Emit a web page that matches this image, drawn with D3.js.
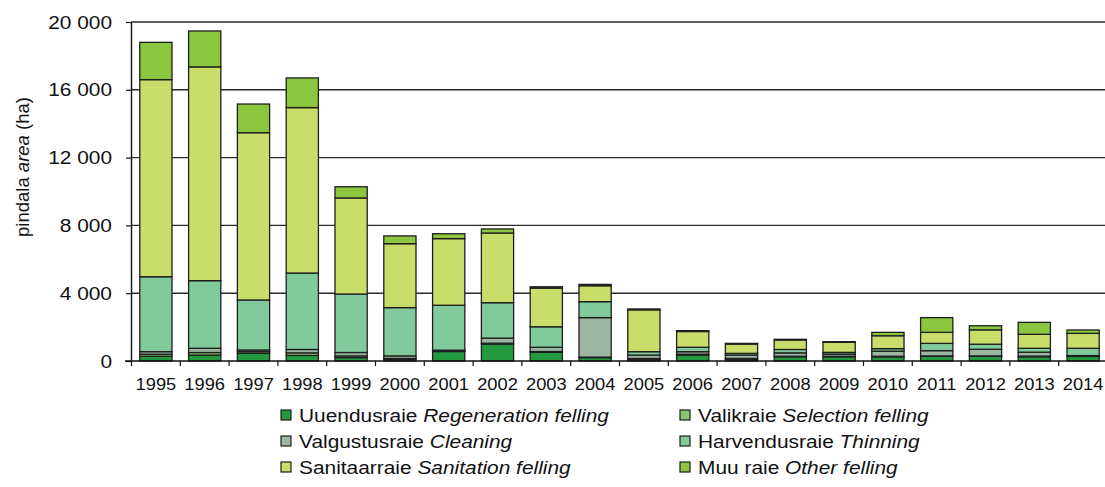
<!DOCTYPE html>
<html>
<head>
<meta charset="utf-8">
<script src="https://cdn.jsdelivr.net/npm/d3@7/dist/d3.min.js"></script>
<style>
  html, body { margin: 0; padding: 0; background: #fff; }
  svg { display: block; font-family: "Liberation Sans", Arial, sans-serif; }
</style>
</head>
<body>
<svg id="chart" width="1105" height="487"></svg>
<script>
// Felling area by felling type (ha), 1995–2014
const years = ["1995","1996","1997","1998","1999","2000","2001","2002","2003","2004",
               "2005","2006","2007","2008","2009","2010","2011","2012","2013","2014"];

const regeneration = [280, 350, 450, 330, 200, 100, 560, 1000, 510, 200, 100, 350, 100, 250, 250, 250, 280, 280, 250, 270];
const selection    = [120, 150, 100, 150, 100,  50,  30,   50,  50,  30,  50,  50,  50,  30,  30,  30,  20,  20,  40,  20];
const cleaning     = [150, 250, 100, 200, 200, 150,  50,  300, 250, 2330, 200, 150, 200, 200, 130, 300, 310, 390, 230,  30];
const thinning     = [4420, 3990, 2950, 4510, 3450, 2850, 2650, 2090, 1210, 940, 200, 260, 100, 200, 100, 150, 430, 300, 230, 430];
const sanitation   = [11630, 12610, 9870, 9760, 5670, 3770, 3930, 4110, 2280, 940, 2470, 930, 550, 560, 590, 760, 650, 850, 825, 880];
const other        = [2200, 2120, 1690, 1750, 660, 460, 290, 240, 80, 80, 50, 50, 40, 40, 40, 200, 870, 240, 705, 200];

const seriesKeys    = ["regeneration", "selection", "cleaning", "thinning", "sanitation", "other"];
const seriesLocal   = ["Uuendusraie", "Valikraie", "Valgustusraie", "Harvendusraie", "Sanitaarraie", "Muu raie"];
const seriesEnglish = ["Regeneration felling", "Selection felling", "Cleaning", "Thinning", "Sanitation felling", "Other felling"];
const seriesColors  = ["#239a3f", "#86c66b", "#9db7a3", "#80ca9c", "#c9dd6b", "#8cc63f"];

const yTicks = [0, 4000, 8000, 12000, 16000, 20000];

const table = years.map((y, i) => ({
  year: y,
  regeneration: regeneration[i],
  selection: selection[i],
  cleaning: cleaning[i],
  thinning: thinning[i],
  sanitation: sanitation[i],
  other: other[i]
}));

const FONT = 18.5;     // label font size
const STRETCH = 1.13;  // slightly widened lettering

const svg = d3.select("#chart");

const x = d3.scaleBand()
  .domain(years)
  .range([131.5, 1107.5])
  .paddingInner(0.34)
  .paddingOuter(0.17);

const y = d3.scaleLinear()
  .domain([0, 20000])
  .range([361, 22]);

const fmt = d3.formatLocale({ decimal: ",", thousands: "\u00a0", grouping: [3], currency: ["", ""] }).format(",d");

// places a widened text label at (px, py)
function label(parent, px, py, anchor, size) {
  return parent.append("text")
    .attr("transform", `translate(${px},${py}) scale(${STRETCH},1)`)
    .attr("text-anchor", anchor)
    .attr("font-size", size || FONT)
    .attr("fill", "#111");
}

// horizontal gridlines
svg.append("g")
  .selectAll("line")
  .data(yTicks.filter(d => d > 0))
  .join("line")
  .attr("x1", 131).attr("x2", 1105)
  .attr("y1", d => y(d)).attr("y2", d => y(d))
  .attr("stroke", "#2a2a2a")
  .attr("stroke-width", 1.4);

// stacked bars
const layers = d3.stack().keys(seriesKeys)(table);

svg.append("g")
  .selectAll("g")
  .data(layers)
  .join("g")
  .attr("fill", (d, i) => seriesColors[i])
  .selectAll("rect")
  .data(d => d)
  .join("rect")
  .attr("x", d => x(d.data.year))
  .attr("width", x.bandwidth())
  .attr("y", d => y(d[1]))
  .attr("height", d => y(d[0]) - y(d[1]))
  .attr("stroke", "#1e1e1e")
  .attr("stroke-width", 1.3);

// y axis
const yAxis = svg.append("g")
  .attr("transform", "translate(131,0)")
  .call(d3.axisLeft(y).tickValues(yTicks).tickFormat("").tickSize(5).tickSizeOuter(0));
yAxis.select(".domain").attr("stroke", "#111").attr("stroke-width", 1.4);
yAxis.selectAll(".tick line").attr("stroke", "#111").attr("stroke-width", 1.2);
yAxis.selectAll(".tick text").remove();

const yLabels = svg.append("g");
yTicks.forEach(v => {
  label(yLabels, 112, y(v) + 6.5, "end").text(fmt(v));
});

// x axis with ticks on band boundaries
const xAxisG = svg.append("g").attr("transform", "translate(0,361)");
xAxisG.append("line")
  .attr("x1", 125).attr("x2", 1105)
  .attr("stroke", "#111").attr("stroke-width", 1.4);
const step = x.step();
const boundaries = years.map(d => x(d) - step * x.paddingInner() / 2);
xAxisG.selectAll("line.tk")
  .data(boundaries)
  .join("line")
  .attr("class", "tk")
  .attr("x1", d => d).attr("x2", d => d)
  .attr("y1", 0).attr("y2", 5)
  .attr("stroke", "#111").attr("stroke-width", 1.2);
years.forEach(d => {
  label(xAxisG, x(d) + x.bandwidth() / 2, 29, "middle", 16.2).text(d);
});

// y axis title
const yTitle = svg.append("text")
  .attr("transform", "translate(29,167) rotate(-90)")
  .attr("text-anchor", "middle")
  .attr("font-size", FONT)
  .attr("fill", "#111");
yTitle.append("tspan").text("pindala ");
yTitle.append("tspan").attr("font-style", "italic").text("area");
yTitle.append("tspan").text(" (ha)");

// legend, two columns
const legend = svg.append("g");
seriesKeys.forEach((k, i) => {
  const lx = i % 2 === 0 ? 281 : 680;
  const ly = 415 + Math.floor(i / 2) * 26;
  legend.append("rect")
    .attr("x", lx).attr("y", ly - 5)
    .attr("width", 10).attr("height", 10)
    .attr("fill", seriesColors[i])
    .attr("stroke", "#1e1e1e")
    .attr("stroke-width", 1.2);
  const t = label(legend, lx + 18, ly + 7, "start");
  t.append("tspan").text(seriesLocal[i] + " ");
  t.append("tspan").attr("font-style", "italic").text(seriesEnglish[i]);
});
</script>
</body>
</html>
